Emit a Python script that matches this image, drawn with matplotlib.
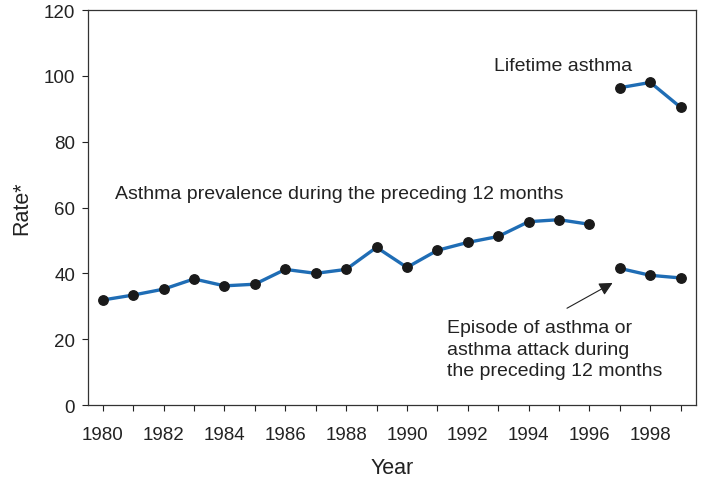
import numpy as np
import matplotlib.pyplot as plt

plt.rcParams['font.family'] = ['Liberation Sans', 'DejaVu Sans']

# 12-month prevalence, 1980-1996
years_prev = list(range(1980, 1997))
prev = [31.9, 33.4, 35.2, 38.3, 36.2, 36.7, 41.2, 40.0, 41.2, 47.9,
        41.8, 47.0, 49.4, 51.2, 55.7, 56.3, 54.9]

# episode / attack in preceding 12 months, 1997-1999
years_new = [1997, 1998, 1999]
episode = [41.5, 39.4, 38.6]
lifetime = [96.4, 98.0, 90.4]

blue = '#1f6db5'
ink = '#222222'

fig = plt.figure(figsize=(7.04, 4.81), dpi=100)
ax = fig.add_axes([0.1243, 0.1559, 0.8643, 0.8212])

for xs, ys in [(years_prev, prev), (years_new, episode), (years_new, lifetime)]:
    ax.plot(xs, ys, color=blue, lw=2.4, marker='o', ms=6.8,
            mfc='#1a1a1a', mec='#1a1a1a', zorder=3)

ax.set_xlim(1979.5, 1999.5)
ax.set_ylim(0, 120)
ax.set_xticks(range(1980, 2000))
ax.set_xticklabels([str(y) if y % 2 == 0 else '' for y in range(1980, 2000)])
ax.set_yticks(range(0, 121, 20))
ax.tick_params(labelsize=13.5, length=4, width=0.8, colors=ink)
ax.tick_params(axis='x', pad=11)
ax.tick_params(axis='y', pad=5)
for s in ax.spines.values():
    s.set_linewidth(0.9)
    s.set_color('#333333')

ax.set_xlabel('Year', fontsize=15.5, color=ink, labelpad=10)
ax.set_ylabel('Rate*', fontsize=15.5, color=ink, labelpad=8)

ax.text(1980.4, 64.2, 'Asthma prevalence during the preceding 12 months',
        fontsize=14, color=ink, va='center')
ax.text(1992.87, 103, 'Lifetime asthma', fontsize=14, color=ink, va='center')
ax.text(1991.3, 17, 'Episode of asthma or\nasthma attack during\nthe preceding 12 months',
        fontsize=14, color=ink, va='center', linespacing=1.32)
ax.annotate('', xy=(1996.76, 37.1), xytext=(1995.26, 29.4),
            arrowprops=dict(arrowstyle='-|>', color=ink, lw=0.8,
                            mutation_scale=20, shrinkA=0, shrinkB=0))

fig.savefig('out.png', dpi=100)
